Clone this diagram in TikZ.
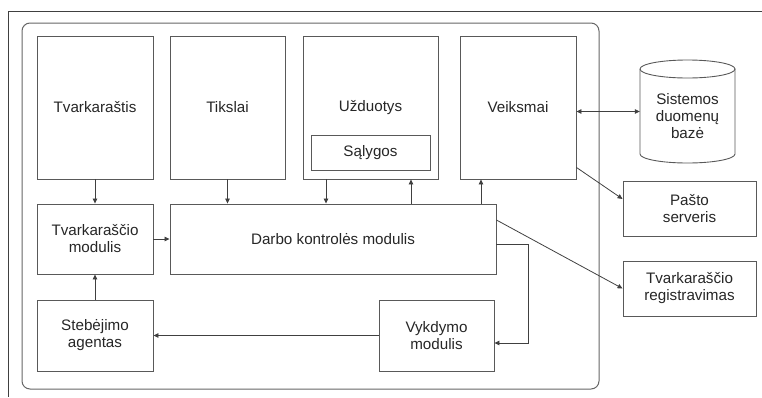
\documentclass[tikz,border=0pt]{standalone}
\usepackage{fontspec}
\setmainfont{Liberation Sans}
\usetikzlibrary{arrows.meta}
\begin{document}
\begin{tikzpicture}[x=1pt,y=-1pt,
  box/.style={draw=black!65, line width=0.9pt, inner sep=0pt, align=center,
    text=black!85, font=\fontsize{15.2}{17}\selectfont},
  lbl/.style={inner sep=0pt, align=center, text=black!85, font=\fontsize{15.2}{17}\selectfont},
  outline/.style={draw=black!65, line width=0.9pt},
  conn/.style={draw=black!75, line width=0.8pt, -{Triangle[length=5pt,width=4.5pt]}},
  biconn/.style={draw=black!75, line width=0.8pt, {Triangle[length=5pt,width=4.5pt]}-{Triangle[length=5pt,width=4.5pt]}},
]
\useasboundingbox (0,0) rectangle (762,397);

% page frame and system boundary
\draw[black!75, line width=1pt] (762,11) -- (8,11) -- (8,397);
\draw[black!60, line width=1pt, rounded corners=8pt] (22,23) rectangle (599,389);

% upper row
\node[box, minimum width=116pt, minimum height=143pt] (tvark) at (95,107.5) {Tvarkaraštis};
\node[box, minimum width=115pt, minimum height=143pt] (tiks) at (227.5,107.5) {Tikslai};
\node[box, minimum width=135pt, minimum height=143pt] (uzd) at (370.5,107.5) {Užduotys};
\node[box, minimum width=119pt, minimum height=35pt] (sal) at (370.5,152.5) {Sąlygos};
\node[box, minimum width=116pt, minimum height=143pt] (veik) at (518,107.5) {Veiksmai};

% middle row
\node[box, minimum width=116pt, minimum height=70pt] (tmod) at (95,239) {Tvarkaraščio\\modulis};
\node[box, minimum width=326pt, minimum height=70pt] (darbo) at (333,239) {Darbo kontrolės modulis};

% lower row
\node[box, minimum width=116pt, minimum height=71pt] (steb) at (95,335.5) {Stebėjimo\\agentas};
\node[box, minimum width=115pt, minimum height=71pt] (vyk) at (436.5,335.5) {Vykdymo\\modulis};

% database cylinder
\node[inner sep=0pt, minimum width=95pt, minimum height=103pt] (db) at (687.5,111.5) {};
\draw[outline] (640,69) -- (640,154) arc[start angle=180, end angle=0, x radius=47.5, y radius=9]
  -- (735,69);
\draw[outline] (687.5,69) ellipse[x radius=47.5, y radius=9];
\node[lbl] (dbtext) at (687.5,116) {Sistemos\\duomenų\\bazė};

% external services
\node[box, minimum width=133pt, minimum height=55pt] (pasto) at (689.5,208.5) {Pašto\\serveris};
\node[box, minimum width=133pt, minimum height=55pt] (reg) at (689.5,288.5) {Tvarkaraščio\\registravimas};

% attachment points on the bottom edges
\coordinate (u1) at ([xshift=-44.5pt]uzd.south);
\coordinate (u2) at ([xshift=40.5pt]uzd.south);
\coordinate (v1) at ([xshift=-37pt]veik.south);

% connectors
\draw[conn] (tvark.south) -- (tmod.north);
\draw[conn] (tiks.south) -- (tiks.south |- darbo.north);
\draw[conn] (u1) -- (u1 |- darbo.north);
\draw[conn] (u2 |- darbo.north) -- (u2);
\draw[conn] (v1 |- darbo.north) -- (v1);
\draw[conn] (tmod.east) -- (darbo.west);
\draw[conn] (steb.north) -- (tmod.south);
\draw[conn] (vyk.west) -- (steb.east);
\draw[conn] ([yshift=-5pt]darbo.east) -- ++(32,0) |- ([yshift=-7.5pt]vyk.east);
\draw[biconn] (veik.east |- db.west) -- (db.west);
\draw[conn] ([yshift=12pt]veik.south east) -- ([yshift=9.5pt]pasto.west);
\draw[conn] ([yshift=19pt]darbo.east) -- (reg.west);
\end{tikzpicture}
\end{document}
